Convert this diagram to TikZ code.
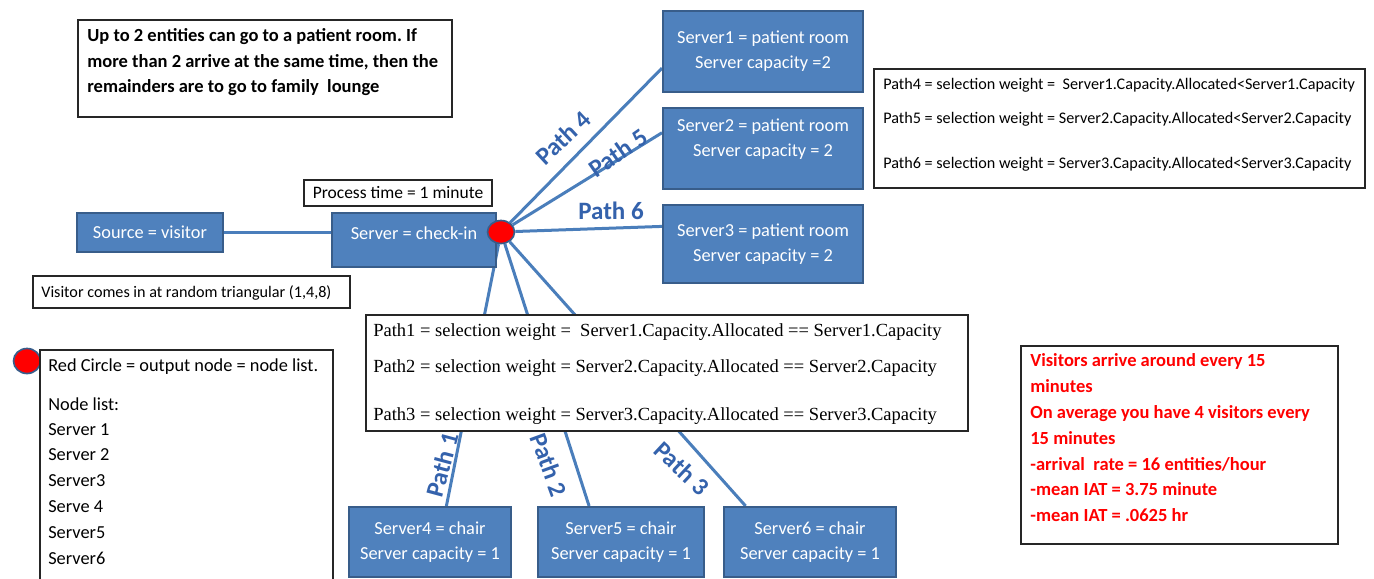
\documentclass[tikz,border=0pt]{standalone}
\usepackage{fontspec}
\setmainfont{Carlito}
\newfontfamily\timesfont{Liberation Serif}
\usepackage{tikz}
\usetikzlibrary{shapes.geometric, positioning, calc, backgrounds}
\definecolor{boxblue}{RGB}{79,129,189}
\definecolor{edgeblue}{RGB}{56,93,138}
\definecolor{wireblue}{RGB}{74,126,187}
\definecolor{tagblue}{RGB}{52,98,172}
\definecolor{alertred}{RGB}{255,0,0}
\frenchspacing
\tikzset{
  sz/.style 2 args={minimum width=#1*0.6pt, minimum height=#2*0.6pt},
  srvtext/.style={text=white, align=center, inner sep=0pt,
    font=\fontsize{11}{15}\selectfont},
  srv/.style={srvtext, rectangle, draw=edgeblue, fill=boxblue, line width=1.2pt},
  memo/.style={rectangle, draw=black!85, fill=white, line width=0.7pt, inner sep=0pt},
  memoline/.style={anchor=west, inner sep=0pt, text height=0.75em, text depth=0.1em},
  wire/.style={draw=wireblue, line width=1.8pt},
  pathtag/.style={font=\fontsize{15}{15}\selectfont\bfseries, text=tagblue, inner sep=0pt},
  outdot/.style={ellipse, fill=red, draw=edgeblue, line width=1pt, inner sep=0pt}
}

\begin{document}
\begin{tikzpicture}[x=0.6pt, y=-0.6pt]
  \useasboundingbox (0,0) rectangle (1374,578);
  \clip (0,0) rectangle (1374,578);

  % source and check-in
  \node[srv, sz={146}{39}] (src) at (150,232.5) {Source = visitor};
  \node[srv, sz={164}{54}] (chk) at (414,240) {};
  \node[srvtext] (chktxt) at (414,233) {Server = check-in};

  % patient rooms
  \node[srv, sz={200}{81}] (s1) at (763,51.5) {Server1 = patient room\\Server capacity =2};
  \node[srv, sz={200}{81}] (s2) at (763,148.5) {};
  \node[srvtext] (s2txt) at (763,139) {Server2 = patient room\\Server capacity = 2};
  \node[srv, sz={200}{78}] (s3) at (763,244) {Server3 = patient room\\Server capacity = 2};

  % chairs
  \node[srv, sz={162}{70}] (s4) at (430,542) {Server4 = chair\\Server capacity = 1};
  \node[srv, sz={166}{70}] (s5) at (621,542) {Server5 = chair\\Server capacity = 1};
  \node[srv, sz={172}{70}] (s6) at (810,542) {Server6 = chair\\Server capacity = 1};

  % output node
  \node[outdot, sz={27}{23}] (out) at (501,232) {};

  % paths
  \begin{scope}[on background layer]
    \draw[wire] (src) -- (src -| chk);
    \draw[wire] (out) -- ($(s1.south west)!0.3!(s1.north west)$);
    \draw[wire] (out) -- ($(s2.south west)!0.69!(s2.north west)$);
    \draw[wire] (out) -- ($(s3.south west)!0.72!(s3.north west)$);
    \draw[wire] (out) -- ($(s4.north west)!0.6!(s4.north east)$);
    \draw[wire] (out) -- ($(s5.north west)!0.31!(s5.north east)$);
    \draw[wire] (out) -- ($(s6.north west)!0.13!(s6.north east)$);
  \end{scope}
  \node[pathtag, rotate=43] (p4) at (563,138) {Path 4};
  \node[pathtag, rotate=35] (p5) at (618,153) {Path 5};
  \node[pathtag] (p6) at (611,211) {Path 6};
  \node[pathtag, rotate=75] (p1) at (442,465) {Path 1};
  \node[pathtag, rotate=-70] (p2) at (549,465) {Path 2};
  \node[pathtag, rotate=-43] (p3) at (682,468) {Path 3};

  % notes
  \node[memo, sz={374}{97}] (note) at (265,68.5) {};
  \foreach \y/\txt [count=\i] in {36/{Up to 2 entities can go to a patient room. If},
      62/{more than 2 arrive at the same time, then the},
      87/{remainders are to go to family \ lounge}}
    \node[memoline, font=\fontsize{11.1}{12}\selectfont\bfseries] (note\i) at (87,\y) {\txt};

  \node[memo, sz={188}{26}, font=\fontsize{10.5}{13}\selectfont] (proc) at (398,193) {Process time = 1 minute};

  \node[memo, sz={317}{32}] (vis) at (191.5,292) {};
  \node[memoline, font=\fontsize{9.7}{11}\selectfont] (vistxt) at (41,292) {Visitor comes in at random triangular (1,4,8)};

  \node[memo, sz={491}{119}] (upper) at (1119.5,128.5) {};
  \foreach \y/\txt [count=\i] in {84/{Path4 = selection weight = \ Server1.Capacity.Allocated<Server1.Capacity},
      118/{Path5 = selection weight = Server2.Capacity.Allocated<Server2.Capacity},
      163/{Path6 = selection weight = Server3.Capacity.Allocated<Server3.Capacity}}
    \node[memoline, font=\fontsize{9.7}{11}\selectfont] (upper\i) at (883,\y) {\txt};

  \node[memo, sz={602}{116}] (lower) at (667,373) {};
  \foreach \y/\txt [count=\i] in {331/{Path1 = selection weight = \ Server1.Capacity.Allocated == Server1.Capacity},
      367/{Path2 = selection weight = Server2.Capacity.Allocated == Server2.Capacity},
      415/{Path3 = selection weight = Server3.Capacity.Allocated == Server3.Capacity}}
    \node[memoline, font=\timesfont\fontsize{11.1}{12}\selectfont] (lower\i) at (373,\y) {\txt};

  % legend
  \node[outdot, sz={27}{25}] (legdot) at (27,361) {};
  \node[memo, sz={293}{240}] (legend) at (186.5,470) {};
  \foreach \y/\txt [count=\i] in {366/{Red Circle = output node = node list.}, 405/{Node list:},
      430/{Server 1}, 455/{Server 2}, 481/{Server3}, 507/{Serve 4}, 533/{Server5}, 559/{Server6}}
    \node[memoline, font=\fontsize{11}{13}\selectfont] (legend\i) at (48,\y) {\txt};

  % arrival rate
  \node[memo, sz={317}{198}] (rate) at (1179.5,445) {};
  \foreach \y/\txt [count=\i] in {361/{Visitors arrive around every 15}, 387/{minutes},
      413/{On average you have 4 visitors every}, 439/{15 minutes},
      465/{-arrival \ rate = 16 entities/hour}, 490/{-mean IAT = 3.75 minute},
      516/{-mean IAT = .0625 hr}}
    \node[memoline, text=alertred, font=\fontsize{11.1}{12}\selectfont\bfseries] (rate\i) at (1030,\y) {\txt};
\end{tikzpicture}
\end{document}
